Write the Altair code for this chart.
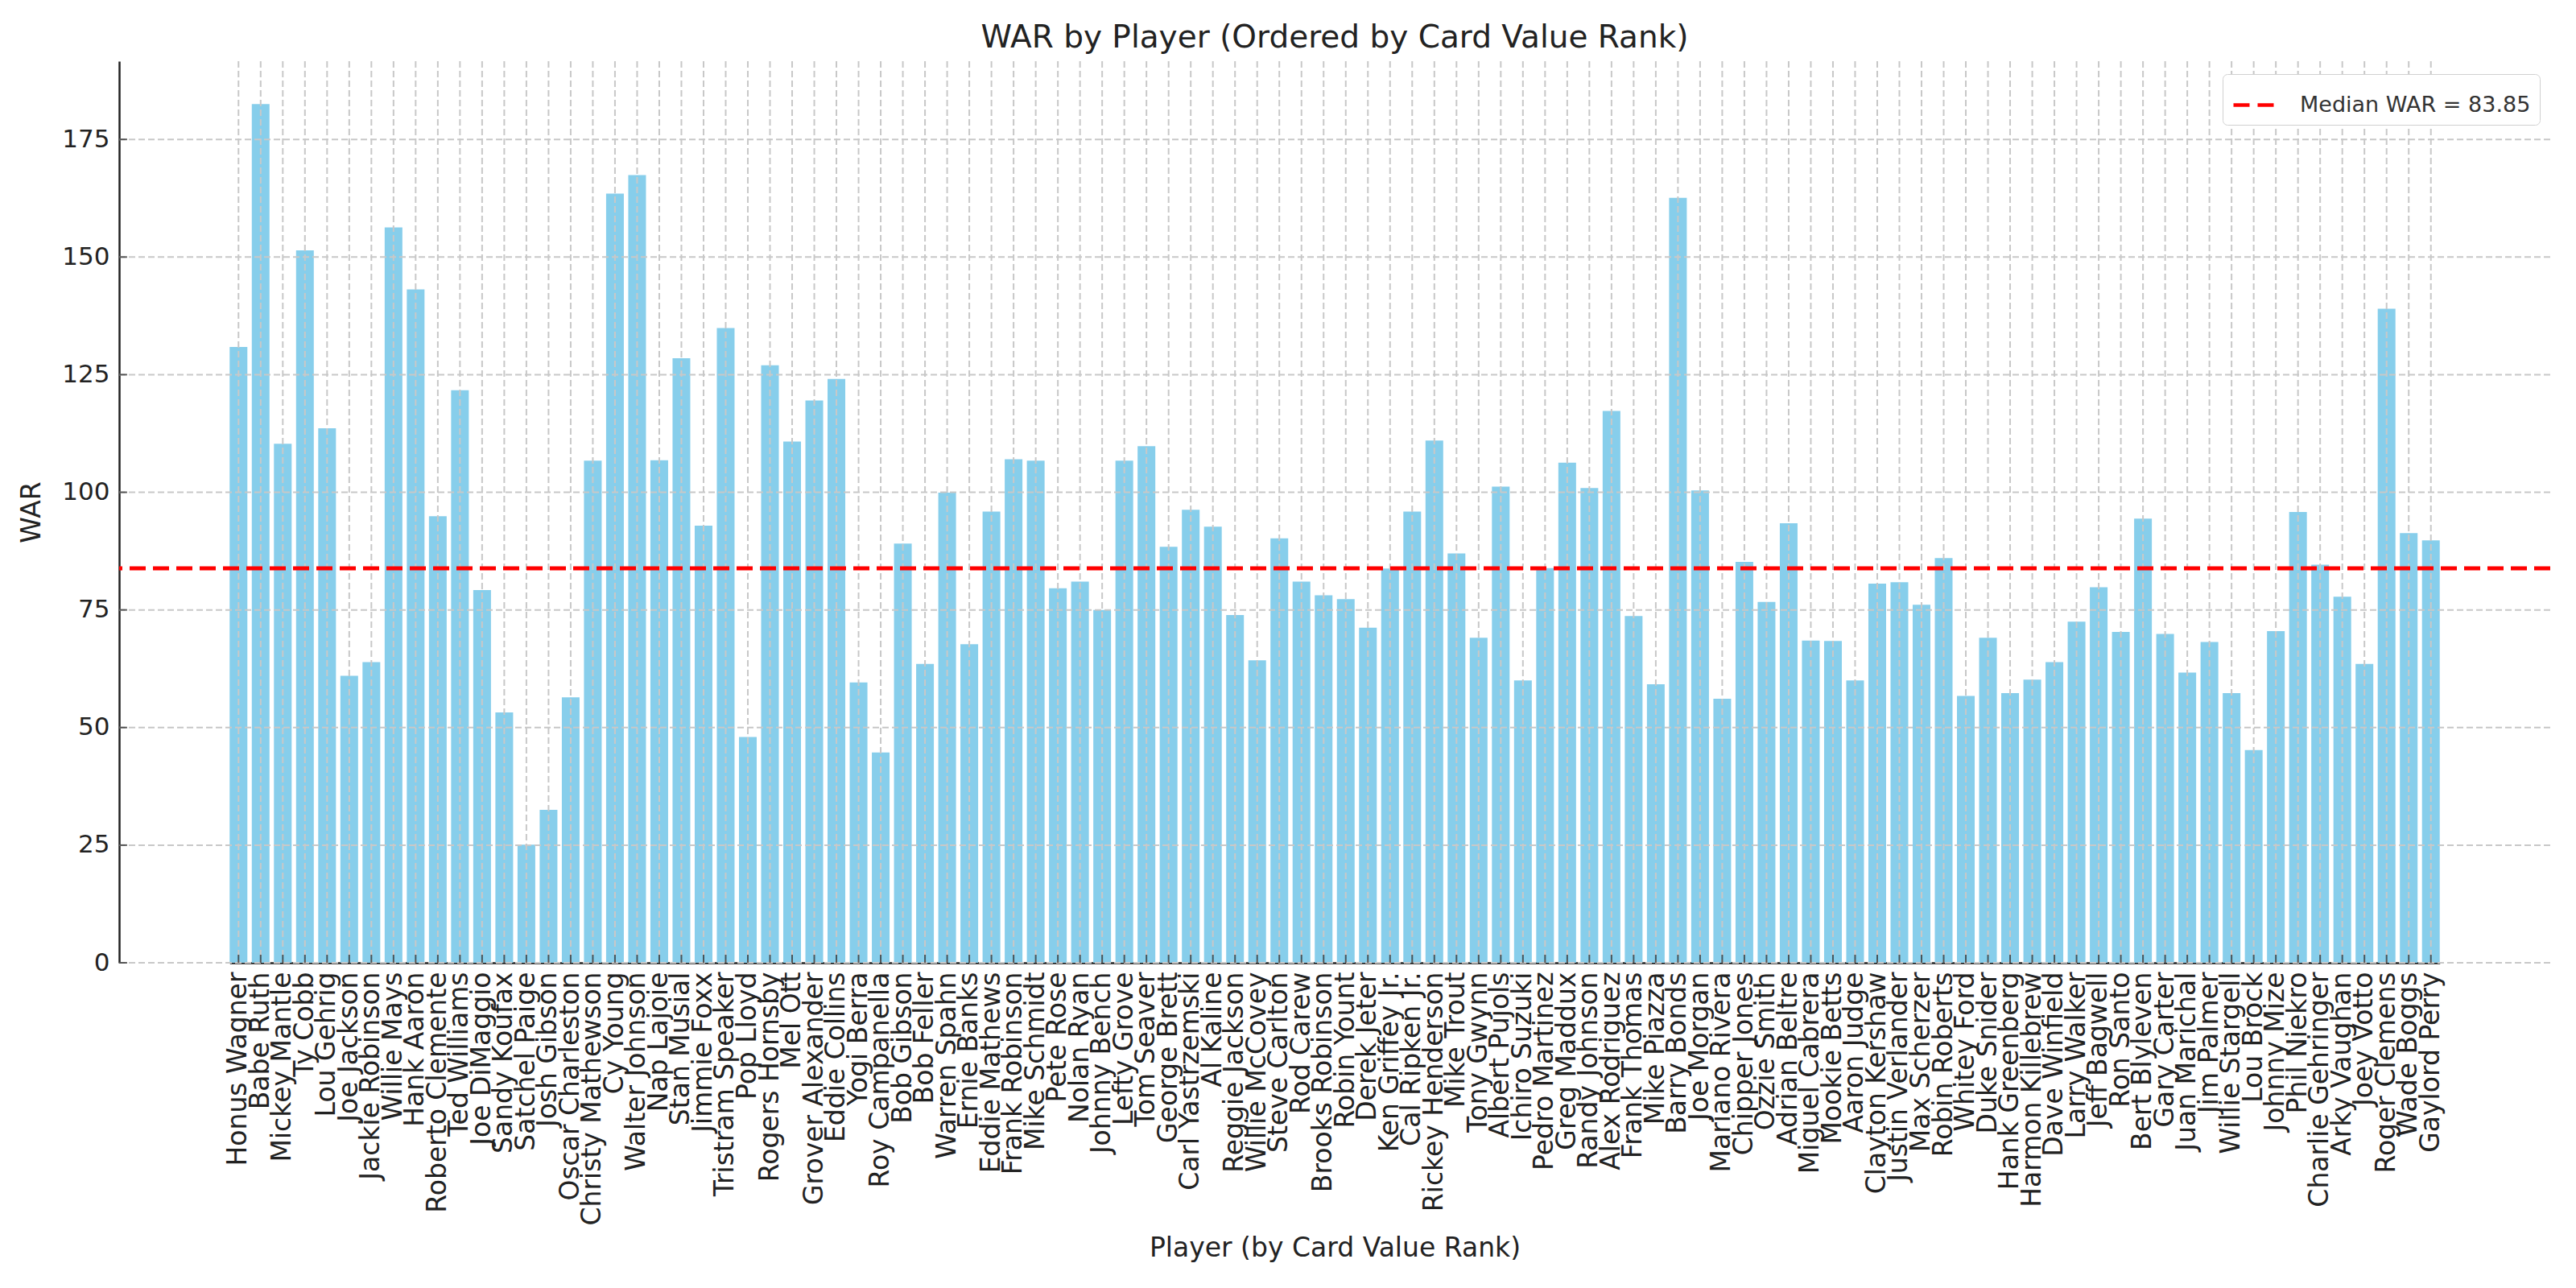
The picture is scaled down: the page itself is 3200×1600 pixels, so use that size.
import altair as alt
import pandas as pd
import numpy as np

players = [
    "Honus Wagner", "Babe Ruth", "Mickey Mantle", "Ty Cobb", "Lou Gehrig",
    "Joe Jackson", "Jackie Robinson", "Willie Mays", "Hank Aaron", "Roberto Clemente",
    "Ted Williams", "Joe DiMaggio", "Sandy Koufax", "Satchel Paige", "Josh Gibson",
    "Oscar Charleston", "Christy Mathewson", "Cy Young", "Walter Johnson", "Nap Lajoie",
    "Stan Musial", "Jimmie Foxx", "Tristram Speaker", "Pop Lloyd", "Rogers Hornsby",
    "Mel Ott", "Grover Alexander", "Eddie Collins", "Yogi Berra", "Roy  Campanella",
    "Bob Gibson", "Bob Feller", "Warren Spahn", "Ernie Banks", "Eddie Mathews",
    "Frank Robinson", "Mike Schmidt", "Pete Rose", "Nolan Ryan", "Johnny Bench",
    "Lefty Grove", "Tom Seaver", "George Brett", "Carl Yastrzemski", "Al Kaline",
    "Reggie Jackson", "Willie McCovey", "Steve Carlton", "Rod Carew", "Brooks Robinson",
    "Robin Yount", "Derek Jeter", "Ken Griffey Jr.", "Cal Ripken Jr.", "Rickey Henderson",
    "Mike Trout", "Tony Gwynn", "Albert Pujols", "Ichiro Suzuki", "Pedro Martinez",
    "Greg Maddux", "Randy Johnson", "Alex Rodriguez", "Frank Thomas", "Mike Piazza",
    "Barry Bonds", "Joe Morgan", "Mariano Rivera", "Chipper Jones", "Ozzie Smith",
    "Adrian Beltre", "Miguel Cabrera", "Mookie Betts", "Aaron Judge", "Clayton Kershaw",
    "Justin Verlander", "Max Scherzer", "Robin Roberts", "Whitey Ford", "Duke Snider",
    "Hank Greenberg", "Harmon Killebrew", "Dave Winfield", "Larry Walker", "Jeff Bagwell",
    "Ron Santo", "Bert Blyleven", "Gary Carter", "Juan Marichal", "Jim Palmer",
    "Willie Stargell", "Lou Brock", "Johnny Mize", "Phil Niekro", "Charlie Gehringer",
    "Arky Vaughan", "Joey Votto", "Roger Clemens", "Wade Boggs", "Gaylord Perry",
]

war = [
    130.9, 182.5, 110.3, 151.4, 113.6,
    61.0, 63.9, 156.3, 143.1, 94.9,
    121.7, 79.2, 53.2, 25.1, 32.5,
    56.4, 106.7, 163.5, 167.4, 106.8,
    128.5, 92.9, 134.9, 48.0, 127.0,
    110.8, 119.5, 124.1, 59.6, 44.7,
    89.1, 63.5, 99.9, 67.7, 95.9,
    107.0, 106.7, 79.6, 81.0, 75.0,
    106.7, 109.8, 88.4, 96.3, 92.7,
    73.9, 64.3, 90.2, 81.0, 78.1,
    77.3, 71.2, 83.8, 95.9, 111.0,
    87.0, 69.1, 101.2, 60.0, 83.9,
    106.3, 100.9, 117.3, 73.7, 59.2,
    162.6, 100.4, 56.1, 85.2, 76.7,
    93.4, 68.5, 68.4, 60.0, 80.6,
    80.9, 76.1, 86.0, 56.7, 69.1,
    57.3, 60.2, 63.9, 72.5, 79.8,
    70.3, 94.4, 69.9, 61.7, 68.2,
    57.3, 45.2, 70.5, 95.8, 84.6,
    77.8, 63.5, 139.0, 91.3, 89.8,
]

y_ticks = [0, 25, 50, 75, 100, 125, 150, 175]

median_war = float(np.median(war))
median_label = f"Median WAR = {median_war:.2f}"

df = pd.DataFrame({"Player": players, "WAR": war})
grid_df = pd.DataFrame({"WAR": y_ticks})
median_df = pd.DataFrame({"WAR": [median_war], "label": [median_label]})

PLOT_W = 3020
PLOT_H = 1120
# matplotlib-like x margins: 5% of the bar span on each side
n = len(players)
span_units = (n - 1) + 0.8
total_units = span_units * 1.1
step = PLOT_W / total_units
outer = span_units * 0.05 * step
y_max = max(war) * 1.05

x_enc = alt.X(
    "Player:N",
    sort=players,
    title="Player (by Card Value Rank)",
    scale=alt.Scale(paddingInner=0.2, paddingOuter=0, range=[outer, PLOT_W - outer]),
    axis=alt.Axis(
        labelAngle=-90,
        labelOverlap=False,
        labelLimit=1000,
        labelPadding=11,
        labelFontSize=33,
        ticks=False,
        grid=False,
        titleFontSize=33,
        titleY=338,
        titleBaseline="top",
    ),
)
y_enc = alt.Y(
    "WAR:Q",
    title="WAR",
    scale=alt.Scale(domain=[0, y_max], nice=False, zero=True),
    axis=alt.Axis(
        values=y_ticks,
        format="d",
        ticks=False,
        grid=False,
        labelPadding=12,
        labelFontSize=31,
        titlePadding=20,
        titleFontSize=33,
    ),
)

bars = alt.Chart(df).mark_bar(color="#87CEEB").encode(x=x_enc, y=y_enc)

vgrid = alt.Chart(df).mark_rule(
    color="#c8c8c8", strokeWidth=2, strokeDash=[8, 4]
).encode(x=alt.X("Player:N", sort=players))

hgrid = alt.Chart(grid_df).mark_rule(
    color="#c8c8c8", strokeWidth=2, strokeDash=[8, 4]
).encode(y=alt.Y("WAR:Q"))

median_rule = alt.Chart(median_df).mark_rule(
    strokeWidth=5, strokeDash=[20, 9]
).encode(
    y=alt.Y("WAR:Q"),
    color=alt.Color(
        "label:N",
        scale=alt.Scale(range=["#ff0000"]),
        legend=alt.Legend(
            title=None,
            orient="none",
            legendX=2613,
            legendY=16,
            symbolType="stroke",
            symbolSize=2500,
            symbolStrokeWidth=4.5,
            symbolDash=[20, 10],
            labelFontSize=27,
            labelLimit=1000,
            labelOffset=30,
            padding=11,
            strokeColor="#d0d0d0",
            fillColor="#ffffff",
            cornerRadius=6,
        ),
    ),
)

ytick_marks = alt.Chart(grid_df).mark_tick(
    orient="horizontal", size=10, thickness=2, color="#222222"
).encode(y=alt.Y("WAR:Q"), x=alt.value(5))

xtick_marks = alt.Chart(df).mark_tick(
    orient="vertical", size=10, thickness=2, color="#222222"
).encode(x=alt.X("Player:N", sort=players), y=alt.datum(0), yOffset=alt.value(-5))

chart = alt.layer(
    bars, vgrid, hgrid, median_rule, ytick_marks, xtick_marks
).properties(
    width=PLOT_W,
    height=PLOT_H,
    title="WAR by Player (Ordered by Card Value Rank)",
    autosize=alt.AutoSizeParams(type="none"),
    padding={"left": 140, "top": 68, "right": 24, "bottom": 396},
).configure_view(
    stroke=None
).configure_axis(
    labelFont="DejaVu Sans",
    titleFont="DejaVu Sans",
    labelColor="#222222",
    titleColor="#222222",
    titleFontWeight="normal",
    domainColor="#222222",
    domainWidth=2.5,
).configure_legend(
    labelFont="DejaVu Sans",
    labelColor="#333333",
).configure_title(
    font="DejaVu Sans",
    fontSize=39,
    fontWeight="normal",
    color="#222222",
    anchor="middle",
    offset=8,
)

chart.save("out.html", embed_options={"renderer": "svg", "actions": False})
